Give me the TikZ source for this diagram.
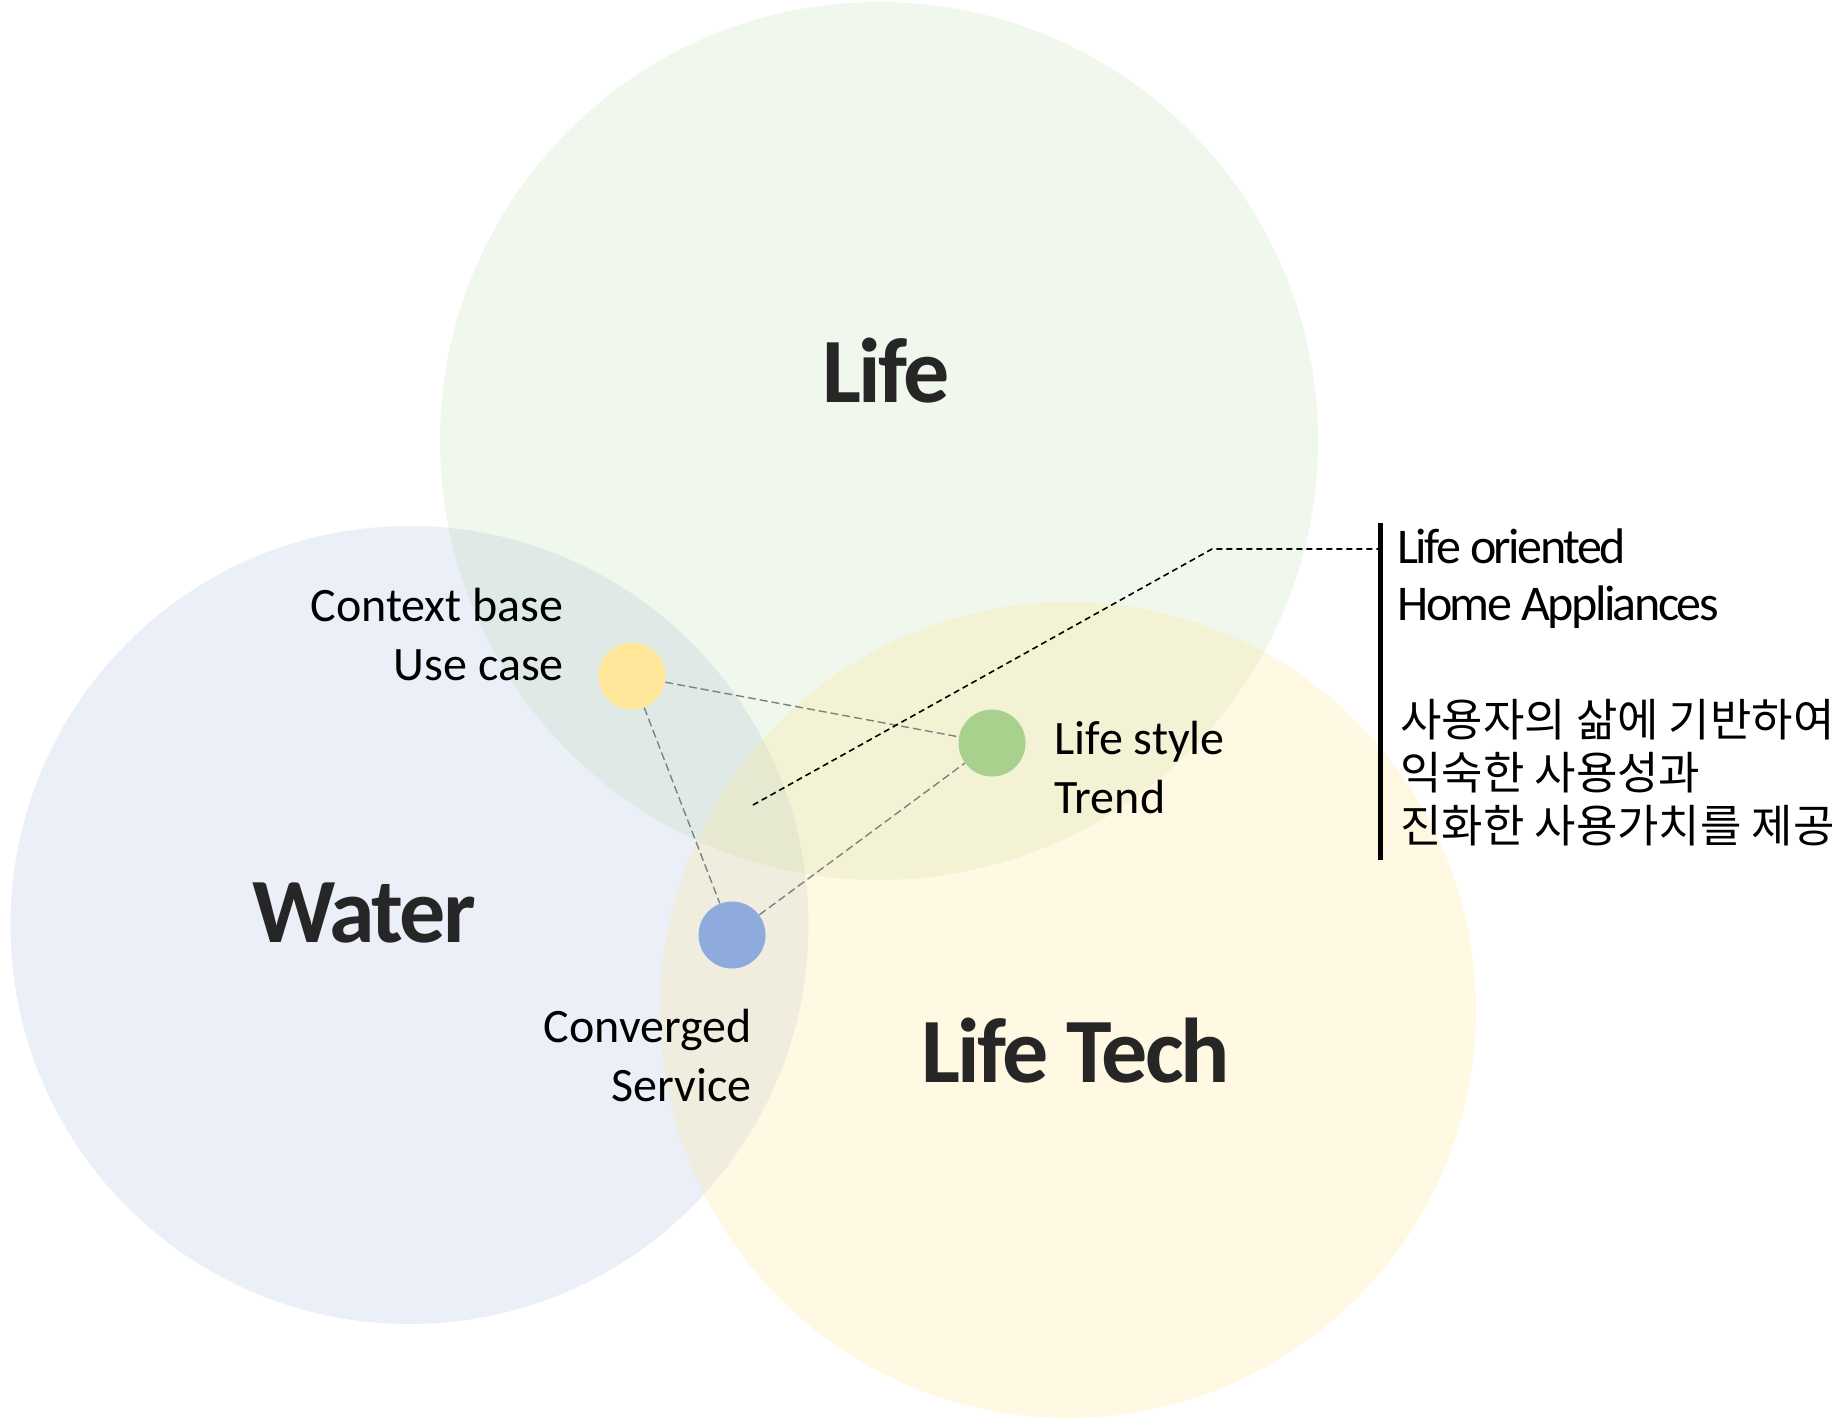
\documentclass[tikz,border=0pt]{standalone}
\usepackage{fontspec}
\setmainfont{Carlito}
\newfontfamily\tightfont[LetterSpace=-5]{Carlito}
\newfontfamily\bigfont[LetterSpace=-3]{Carlito}
\newfontfamily\krfont{Noto Sans CJK KR}
\definecolor{waterblue}{HTML}{8FAADC}
\definecolor{lifegreen}{HTML}{A9D18E}
\definecolor{techyellow}{HTML}{FFE699}
\definecolor{labelgray}{HTML}{262626}

\begin{document}
\begin{tikzpicture}[x=0.5pt,y=-0.5pt,
    dot/.style={circle,inner sep=0pt,minimum size=33.5pt},
    link/.style={gray,line width=0.7pt,dash pattern=on 4pt off 2pt},
    big/.style={font=\bigfont\fontsize{46}{56}\selectfont\bfseries,text=labelgray,inner sep=0pt,anchor=base},
    lbl/.style={font=\fontsize{24}{29.5}\selectfont,inner sep=0pt}]
    \useasboundingbox (0,0) rectangle (1845,1418);

    % the three big circles
    \fill[waterblue,fill opacity=0.19] (409.5,925) circle (199.5pt);
    \fill[lifegreen,fill opacity=0.17] (879,441) circle (219.5pt);
    \fill[techyellow,fill opacity=0.28] (1068,1010) circle (204pt);

    \node[big] (L) at (886,402) {Life};
    \node[big] (W) at (364,942) {Water};
    \node[big] (LT) at (1076,1082) {Life Tech};

    % small dots and the links between them
    \node[dot,fill=techyellow] (A) at (632,676) {};
    \node[dot,fill=lifegreen] (B) at (992,743) {};
    \node[dot,fill=waterblue] (C) at (732,935) {};
    \draw[link] (A) -- (B);
    \draw[link] (A) -- (C);
    \draw[link] (C) -- (B);

    \node[lbl,align=right,anchor=base east] (D) at (564,680) {Context base\\Use case};
    \node[lbl,align=right,anchor=base east] (E) at (752,1101) {Converged\\Service};
    \node[lbl,align=left,anchor=base west] (F) at (1054,813) {Life style\\Trend};

    % pointer to the side note
    \coordinate (P) at (753,805);
    \coordinate (Q) at (1212,549);
    \coordinate (R) at (1378,549);
    \coordinate (T) at (1380,523);
    \coordinate (U) at (1380,860);
    \draw[line width=0.8pt,dash pattern=on 3pt off 2pt] (P) -- (Q) -- (R);
    \draw[line width=2.5pt] (T) -- (U);

    \node[lbl,align=left,anchor=base west,font=\tightfont\fontsize{25}{28.5}\selectfont] (G) at (1397,620) {Life oriented\\Home Appliances};
    \node[lbl,align=left,anchor=base west,font=\krfont\fontsize{22.5}{26.5}\selectfont] (H) at (1400,842) {사용자의 삶에 기반하여\\익숙한 사용성과\\진화한 사용가치를 제공};
\end{tikzpicture}
\end{document}
